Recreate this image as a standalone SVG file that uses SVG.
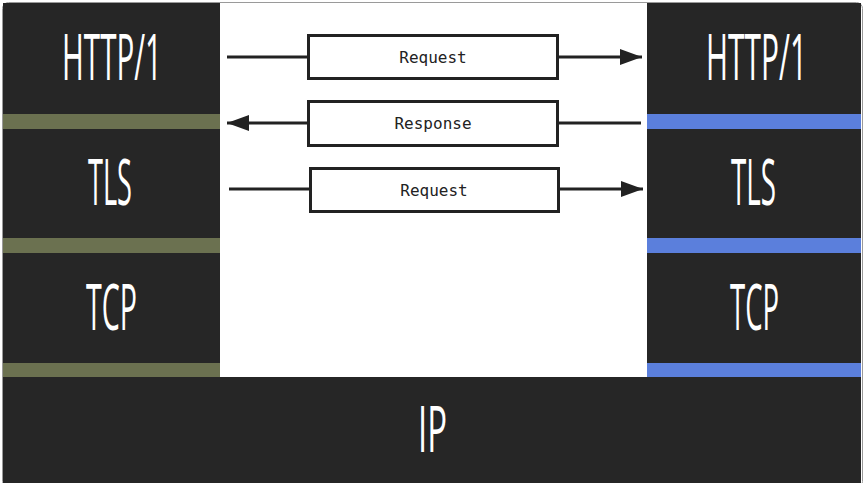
<svg xmlns="http://www.w3.org/2000/svg" width="866" height="483" viewBox="0 0 866 483">
  <defs>
    <style>
      .panel { fill: #262626; }
      .olive { fill: #6b7150; }
      .blue { fill: #5b7fdc; }
      .layer { fill: #ffffff; font-family: "Open Sans", "Liberation Sans", "DejaVu Sans", sans-serif; font-weight: 400; font-size: 64px; text-anchor: middle; }
      .box { fill: #ffffff; stroke: #222222; stroke-width: 3; }
      .msg { fill: #222222; font-family: "DejaVu Sans Mono", "Liberation Mono", monospace; font-size: 16px; text-anchor: middle; }
      .line { stroke: #222222; stroke-width: 3; fill: none; }
    </style>
    <marker id="arrow" viewBox="0 0 22 16" refX="22" refY="8" markerWidth="22" markerHeight="16" markerUnits="userSpaceOnUse" orient="auto">
      <path d="M0,0 L22,8 L0,16 Z" fill="#222222"/>
    </marker>
  </defs>

  <rect x="0" y="0" width="866" height="483" fill="#ffffff"/>
  <rect x="2.5" y="2.5" width="860" height="485" rx="6" fill="#ffffff" stroke="#9a9a9a" stroke-width="1"/>

  <g id="left-stack">
    <rect class="panel" x="3" y="3" width="217" height="374"/>
    <rect class="olive" x="3" y="114" width="217" height="15"/>
    <rect class="olive" x="3" y="238" width="217" height="15"/>
    <rect class="olive" x="3" y="363" width="217" height="14"/>
  </g>
  <g id="left-http" transform="translate(112,80) scale(0.5,1)">
    <text class="layer" x="0" y="0" textLength="200" lengthAdjust="spacingAndGlyphs">HTTP/1</text>
  </g>
  <g id="left-tls" transform="translate(110,205) scale(0.5,1)">
    <text class="layer" x="0" y="0" textLength="88" lengthAdjust="spacingAndGlyphs">TLS</text>
  </g>
  <g id="left-tcp" transform="translate(111.5,330) scale(0.5,1)">
    <text class="layer" x="0" y="0" textLength="102" lengthAdjust="spacingAndGlyphs">TCP</text>
  </g>

  <g id="right-stack">
    <rect class="panel" x="647" y="3" width="214" height="374"/>
    <rect class="blue" x="647" y="114" width="214" height="15"/>
    <rect class="blue" x="647" y="238" width="214" height="15"/>
    <rect class="blue" x="647" y="363" width="214" height="14"/>
  </g>
  <g id="right-http" transform="translate(756.5,80) scale(0.5,1)">
    <text class="layer" x="0" y="0" textLength="202" lengthAdjust="spacingAndGlyphs">HTTP/1</text>
  </g>
  <g id="right-tls" transform="translate(753.5,205) scale(0.5,1)">
    <text class="layer" x="0" y="0" textLength="90" lengthAdjust="spacingAndGlyphs">TLS</text>
  </g>
  <g id="right-tcp" transform="translate(754.5,330) scale(0.5,1)">
    <text class="layer" x="0" y="0" textLength="98" lengthAdjust="spacingAndGlyphs">TCP</text>
  </g>

  <g id="ip">
    <rect class="panel" x="3" y="377" width="858" height="106"/>
    <g transform="translate(432.5,452) scale(0.5,1)">
      <text class="layer" x="0" y="0" textLength="58" lengthAdjust="spacingAndGlyphs">IP</text>
    </g>
  </g>

  <g id="connectors">
    <line class="line" x1="227" y1="57" x2="308" y2="57"/>
    <line class="line" x1="558" y1="57" x2="642" y2="57" marker-end="url(#arrow)"/>
    <line class="line" x1="308" y1="123" x2="227" y2="123" marker-end="url(#arrow)"/>
    <line class="line" x1="641" y1="123" x2="558" y2="123"/>
    <line class="line" x1="229" y1="189" x2="310" y2="189"/>
    <line class="line" x1="559" y1="189" x2="643" y2="189" marker-end="url(#arrow)"/>
  </g>

  <g id="request-1">
    <rect class="box" x="308.5" y="35.5" width="249" height="43"/>
    <text class="msg" x="433" y="63">Request</text>
  </g>
  <g id="response">
    <rect class="box" x="308.5" y="101.5" width="249" height="44"/>
    <text class="msg" x="433" y="129">Response</text>
  </g>
  <g id="request-2">
    <rect class="box" x="310.5" y="168.5" width="248" height="43"/>
    <text class="msg" x="434" y="196">Request</text>
  </g>
</svg>
